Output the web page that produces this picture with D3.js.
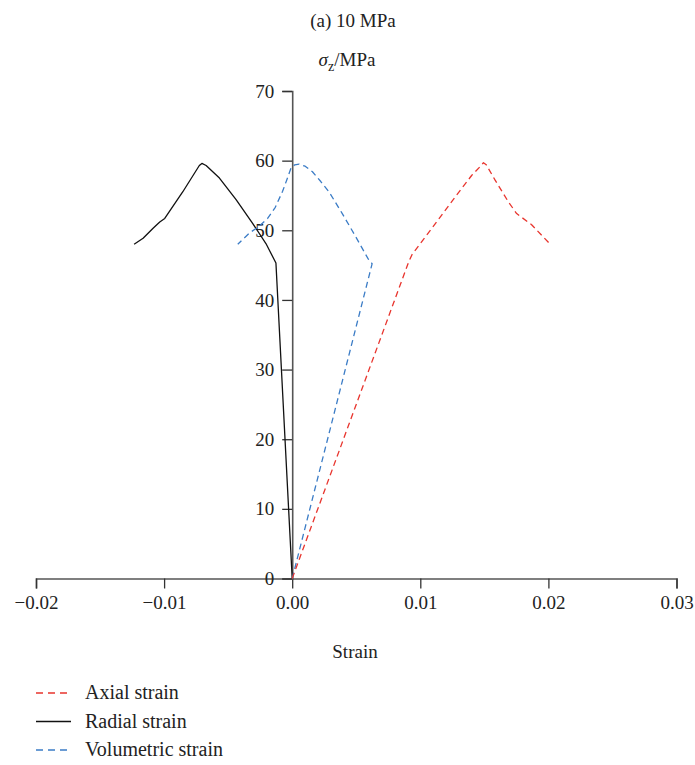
<!DOCTYPE html>
<html>
<head>
<meta charset="utf-8">
<script src="https://cdn.jsdelivr.net/npm/d3@7"></script>
<style>
  body { margin: 0; background: #fff; }
  svg text { font-family: "Liberation Serif", "DejaVu Serif", serif; fill: #222; }
</style>
</head>
<body>
<div id="chart"></div>
<script>
// strain values
const axialStrain = [0, 0.0091, 0.00935, 0.01091, 0.01273, 0.01402, 0.01475, 0.01493, 0.01515, 0.01584, 0.01687, 0.01752, 0.01869, 0.02004];
const axialStress = [0, 45.5, 46.5, 50.3, 54.8, 57.9, 59.3, 59.7, 59.4, 57.2, 54.1, 52.4, 50.8, 48.2];

const radialStrain = [0, -0.00127, -0.00205, -0.00309, -0.00438, -0.00568, -0.00672, -0.00705, -0.00725, -0.00855, -0.00995, -0.01034, -0.01086, -0.01164, -0.01234];
const radialStress = [0, 45.3, 48.1, 51.0, 54.4, 57.5, 59.3, 59.6, 59.3, 55.5, 51.7, 51.2, 50.3, 48.85, 48.0];

const volStrain = [0, 0.00624, 0.00599, 0.00547, 0.00495, 0.00391, 0.00288, 0.00223, 0.00158, 0.00101, 0.00054, 0.0002, -0.00008, -0.00039, -0.00075, -0.00132, -0.00192, -0.00257, -0.00334, -0.00425];
const volStress = [0, 45.2, 45.7, 47.4, 49.1, 52.4, 55.5, 57.0, 58.4, 59.2, 59.5, 59.4, 59.0, 57.4, 55.6, 53.3, 51.7, 50.6, 49.6, 48.0];

const xTicks = [-0.02, -0.01, 0, 0.01, 0.02, 0.03];
const yTicks = [0, 10, 20, 30, 40, 50, 60, 70];

const seriesNames = ["Axial strain", "Radial strain", "Volumetric strain"];
const seriesColors = ["#e8352e", "#111111", "#3b7cc6"];
const seriesDash = ["6,4", null, "6,4"];

const width = 695, height = 765;

const svg = d3.select("#chart").append("svg")
    .attr("width", width)
    .attr("height", height);

const x = d3.scaleLinear().domain([-0.02, 0.03]).range([36, 676.5]);
const y = d3.scaleLinear().domain([0, 70]).range([578.5, 91]);

// axes
const xAxis = svg.append("g")
    .attr("transform", `translate(0,${y(0)})`)
    .call(d3.axisBottom(x).tickValues(xTicks).tickSizeOuter(0).tickSize(10).tickPadding(7).tickFormat(d3.format(".2f")));

const yAxis = svg.append("g")
    .attr("transform", `translate(${x(0)},0)`)
    .call(d3.axisLeft(y).tickValues(yTicks).tickSizeOuter(0).tickSize(10).tickPadding(8));

[xAxis, yAxis].forEach(ax => {
    ax.select(".domain").attr("stroke", "#555").attr("stroke-width", 1.6);
    ax.selectAll(".tick line").attr("stroke", "#333").attr("stroke-width", 1.3);
    ax.selectAll(".tick text")
      .style("font-family", "'Liberation Serif', serif")
      .style("font-size", "19px")
      .attr("fill", "#222");
});

// lines
const line = d3.line()
    .x(d => x(d[0]))
    .y(d => y(d[1]));

const data = [
    d3.zip(axialStrain, axialStress),
    d3.zip(radialStrain, radialStress),
    d3.zip(volStrain, volStress)
];

// draw radial first, then volumetric, then axial
[1, 2, 0].forEach(i => {
    svg.append("path")
        .datum(data[i])
        .attr("fill", "none")
        .attr("stroke", seriesColors[i])
        .attr("stroke-width", 1.3)
        .attr("stroke-dasharray", seriesDash[i])
        .attr("stroke-linejoin", "round")
        .attr("d", line);
});

// titles
svg.append("text")
    .attr("x", 353).attr("y", 27)
    .attr("text-anchor", "middle")
    .style("font-size", "19px")
    .text("(a) 10 MPa");

const yTitle = svg.append("text")
    .attr("x", 347).attr("y", 66)
    .attr("text-anchor", "middle")
    .style("font-size", "19px");
yTitle.append("tspan").style("font-style", "italic").text("σ");
yTitle.append("tspan").attr("dy", 5).style("font-size", "14px").text("z");
yTitle.append("tspan").attr("dy", -5).text("/MPa");

svg.append("text")
    .attr("x", 355).attr("y", 658)
    .attr("text-anchor", "middle")
    .style("font-size", "19px")
    .text("Strain");

// legend
const legend = svg.append("g");
seriesNames.forEach((name, i) => {
    const ly = 693 + i * 28.5;
    legend.append("line")
        .attr("x1", 36).attr("x2", 71)
        .attr("y1", ly).attr("y2", ly)
        .attr("stroke", seriesColors[i])
        .attr("stroke-width", 1.3)
        .attr("stroke-dasharray", seriesDash[i] ? "7,5" : null);
    legend.append("text")
        .attr("x", 85).attr("y", ly + 6)
        .style("font-size", "20px")
        .text(name);
});
</script>
</body>
</html>
